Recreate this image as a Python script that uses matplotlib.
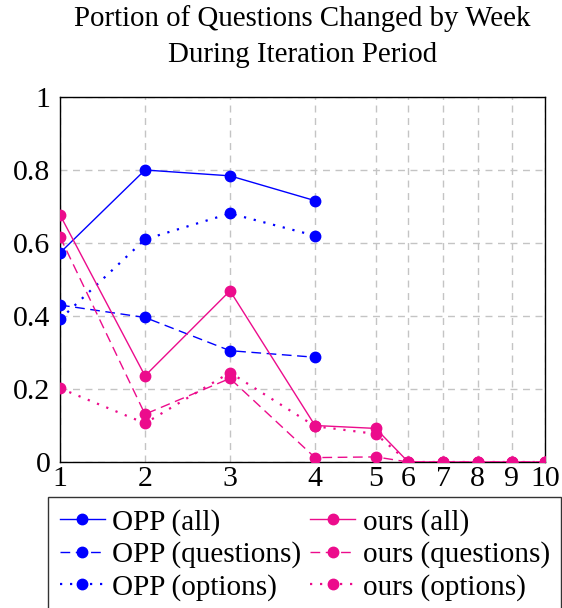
import numpy as np
import matplotlib
matplotlib.use("Agg")
import matplotlib.pyplot as plt

weeks = [1, 2, 3, 4, 5, 6, 7, 8, 9, 10]
weeks_opp = [1, 2, 3, 4]
opp_all = [0.573, 0.800, 0.784, 0.716]
opp_questions = [0.430, 0.396, 0.305, 0.287]
opp_options = [0.391, 0.610, 0.681, 0.620]
ours_all = [0.677, 0.236, 0.469, 0.100, 0.092, 0, 0, 0, 0, 0]
ours_questions = [0.617, 0.131, 0.229, 0.012, 0.014, 0, 0, 0, 0, 0]
ours_options = [0.202, 0.106, 0.245, 0.098, 0.077, 0, 0, 0, 0, 0]
yticks = [0, 0.2, 0.4, 0.6, 0.8, 1]
ytick_labels = ["0", "0.2", "0.4", "0.6", "0.8", "1"]
title_lines = ["Portion of Questions Changed by Week", "During Iteration Period"]

# non-uniform x axis layout (pixel positions of week ticks)
xpos = [60, 145, 230, 315, 375.7, 408.3, 443.3, 477.7, 511.7, 545]

def fwd(x):
    return np.interp(x, weeks, xpos)
def inv(p):
    return np.interp(p, xpos, weeks)

plt.rcParams['font.family'] = ['Liberation Serif', 'DejaVu Serif']

W, H = 562, 608
fig = plt.figure(figsize=(W/100, H/100), dpi=100)
ax = fig.add_axes([60/W, 1-462/H, (545-60)/W, (462-97)/H])
ax.set_xscale('function', functions=(fwd, inv))

blue = '#0000FF'
pink = '#EC0C8C'
ms = 7.5
dash = (0, (7, 4))
dot = (0, (1, 3.5))

ax.plot(weeks_opp, opp_all, color=blue, lw=1, ls='-', marker='o', ms=ms, label='OPP (all)', zorder=3)
ax.plot(weeks_opp, opp_questions, color=blue, lw=1, ls=dash, marker='o', ms=ms, label='OPP (questions)', zorder=3)
ax.plot(weeks_opp, opp_options, color=blue, lw=1.6, ls=dot, marker='o', ms=ms, label='OPP (options)', zorder=3)
ax.plot(weeks, ours_all, color=pink, lw=1, ls='-', marker='o', ms=ms, label='ours (all)', zorder=3)
ax.plot(weeks, ours_questions, color=pink, lw=1, ls=dash, marker='o', ms=ms, label='ours (questions)', zorder=3)
ax.plot(weeks, ours_options, color=pink, lw=1.6, ls=dot, marker='o', ms=ms, label='ours (options)', zorder=3)

ax.set_xlim(1, 10)
ax.set_ylim(0, 1)
ax.set_xticks(weeks)
ax.set_xticklabels([str(w) for w in weeks])
ax.set_yticks(yticks)
ax.set_yticklabels(ytick_labels)
ax.tick_params(axis='both', labelsize=21.5, length=0)
ax.tick_params(axis='y', pad=7)
ax.tick_params(axis='x', pad=3)
ax.grid(True, color='#C4C4C4', ls=(0, (5, 4)), lw=1)
for s in ax.spines.values():
    s.set_linewidth(1)
    s.set_color('black')
ax.set_axisbelow(True)

cx = (60 + 545) / 2 / W
fig.text(cx, 1-19/H, title_lines[0], ha='center', va='center', fontsize=20.8)
fig.text(cx, 1-55/H, title_lines[1], ha='center', va='center', fontsize=20.8)

handles, labels = ax.get_legend_handles_labels()
leg = fig.legend(handles, labels, loc='upper left', bbox_to_anchor=(48/W, 1-497/H), ncol=2,
                 fontsize=21, frameon=True, fancybox=False, edgecolor='black',
                 handlelength=1.55, handletextpad=0.25, columnspacing=0.3, labelspacing=0.19,
                 borderpad=0.4, borderaxespad=0)
leg.get_frame().set_linewidth(1)

fig.savefig('out.png', dpi=100)
